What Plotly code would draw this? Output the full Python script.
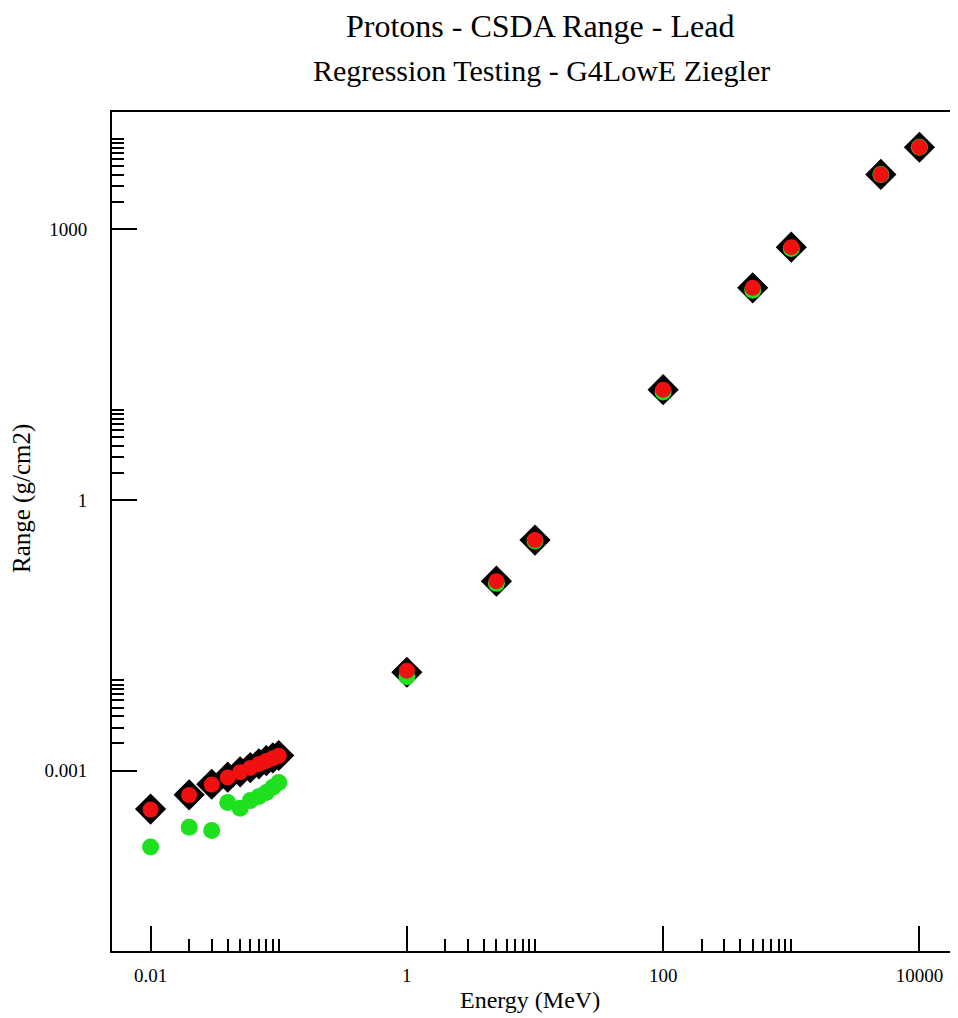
import math
import plotly.graph_objects as go

# ---------------- data ----------------
energy = [0.01, 0.02, 0.03, 0.04, 0.05, 0.06, 0.07, 0.08, 0.09, 0.1,
          1, 5, 10, 100, 500, 1000, 5000, 10000]
range_reference = [3.74e-4, 5.38e-4, 7.06e-4, 8.45e-4, 9.68e-4, 1.08e-3, 1.19e-3,
                   1.29e-3, 1.38e-3, 1.47e-3, 0.0123, 0.126, 0.359, 16.7, 225, 635,
                   4060, 8130]
range_red = [3.70e-4, 5.35e-4, 7.00e-4, 8.40e-4, 9.60e-4, 1.07e-3, 1.18e-3,
             1.28e-3, 1.37e-3, 1.46e-3, 0.0128, 0.126, 0.36, 16.7, 225, 635,
             4060, 8130]
range_green = [1.42e-4, 2.36e-4, 2.17e-4, 4.43e-4, 3.83e-4, 4.66e-4, 5.15e-4,
               5.70e-4, 6.55e-4, 7.36e-4, 0.0110, 0.119, 0.35, 15.7, 212, 615,
               4060, 8130]

x_ticks = [0.01, 1, 100, 10000]
x_ticktext = ["0.01", "1", "100", "10000"]
y_ticks = [0.001, 1, 1000]
y_ticktext = ["0.001", "1", "1000"]

title = "Protons - CSDA Range - Lead"
subtitle = "Regression Testing - G4LowE Ziegler"
x_title = "Energy (MeV)"
y_title = "Range (g/cm2)"

# minor ticks: 2..10 x each major
x_minor = [m * k for m in [1e-4, 0.01, 1, 100, 10000] for k in range(2, 11)]
y_minor = [m * k for m in [1e-6, 1e-3, 1, 1000] for k in range(2, 11)]

FONT = "Liberation Serif"

fig = go.Figure()
fig.add_trace(go.Scatter(x=energy, y=range_reference, mode="markers",
                         marker=dict(symbol="diamond", size=24, color="black",
                                     line=dict(width=0)),
                         showlegend=False))
fig.add_trace(go.Scatter(x=energy, y=range_green, mode="markers",
                         marker=dict(symbol="circle", size=17, color="#1fe01f",
                                     line=dict(width=0)),
                         showlegend=False))
fig.add_trace(go.Scatter(x=energy, y=range_red, mode="markers",
                         marker=dict(symbol="circle", size=16, color="#f01010",
                                     line=dict(width=0)),
                         showlegend=False))

# the page body adds an 8px offset; lay out in screen pixels minus that offset
OFF = 8
W, H = 958 - OFF, 1018 - OFF
L, T = 112 - OFF, 112 - OFF
B = H - (951 - OFF)
R = 0
pw = W - L - R
ph = H - T - B

axis_common = dict(type="log", showgrid=False, zeroline=False, showline=True,
                   automargin=False,
                   linecolor="black", linewidth=2, ticks="inside", ticklen=25,
                   tickwidth=2, tickcolor="black",
                   tickfont=dict(family=FONT, size=19, color="black"))

fig.update_layout(
    width=W, height=H,
    margin=dict(l=L, r=R, t=T, b=B, pad=0),
    paper_bgcolor="white", plot_bgcolor="white",
    showlegend=False,
    xaxis=dict(axis_common, range=[math.log10(0.005), math.log10(20000)],
               tickmode="array", tickvals=x_ticks, ticktext=x_ticktext,
               mirror=True, ticklabelstandoff=6,
               minor=dict(tickmode="array", tickvals=x_minor, ticks="inside",
                          ticklen=12, tickwidth=2, tickcolor="black")),
    yaxis=dict(axis_common, range=[-5, math.log10(20000)],
               tickmode="array", tickvals=y_ticks, ticktext=y_ticktext,
               mirror=False, ticklabelstandoff=19,
               minor=dict(tickmode="array", tickvals=y_minor, ticks="inside",
                          ticklen=12, tickwidth=2, tickcolor="black")),
)

def px_x(p):
    return (p - OFF - L) / pw

def px_y(p):
    return (H - B - (p - OFF)) / ph

fig.add_annotation(text=title, x=px_x(540), y=px_y(26), xref="paper", yref="paper",
                   showarrow=False, xanchor="center", yanchor="middle",
                   font=dict(family=FONT, size=32, color="black"))
fig.add_annotation(text=subtitle, x=px_x(541), y=px_y(70), xref="paper", yref="paper",
                   showarrow=False, xanchor="center", yanchor="middle",
                   font=dict(family=FONT, size=30, color="black"))
fig.add_annotation(text=x_title, x=px_x(530), y=px_y(1000), xref="paper", yref="paper",
                   showarrow=False, xanchor="center", yanchor="middle",
                   font=dict(family=FONT, size=24, color="black"))
fig.add_annotation(text=y_title, x=px_x(22), y=px_y(499), xref="paper", yref="paper",
                   showarrow=False, xanchor="center", yanchor="middle", textangle=-90,
                   font=dict(family=FONT, size=25, color="black"))

fig.write_html("out.html")
